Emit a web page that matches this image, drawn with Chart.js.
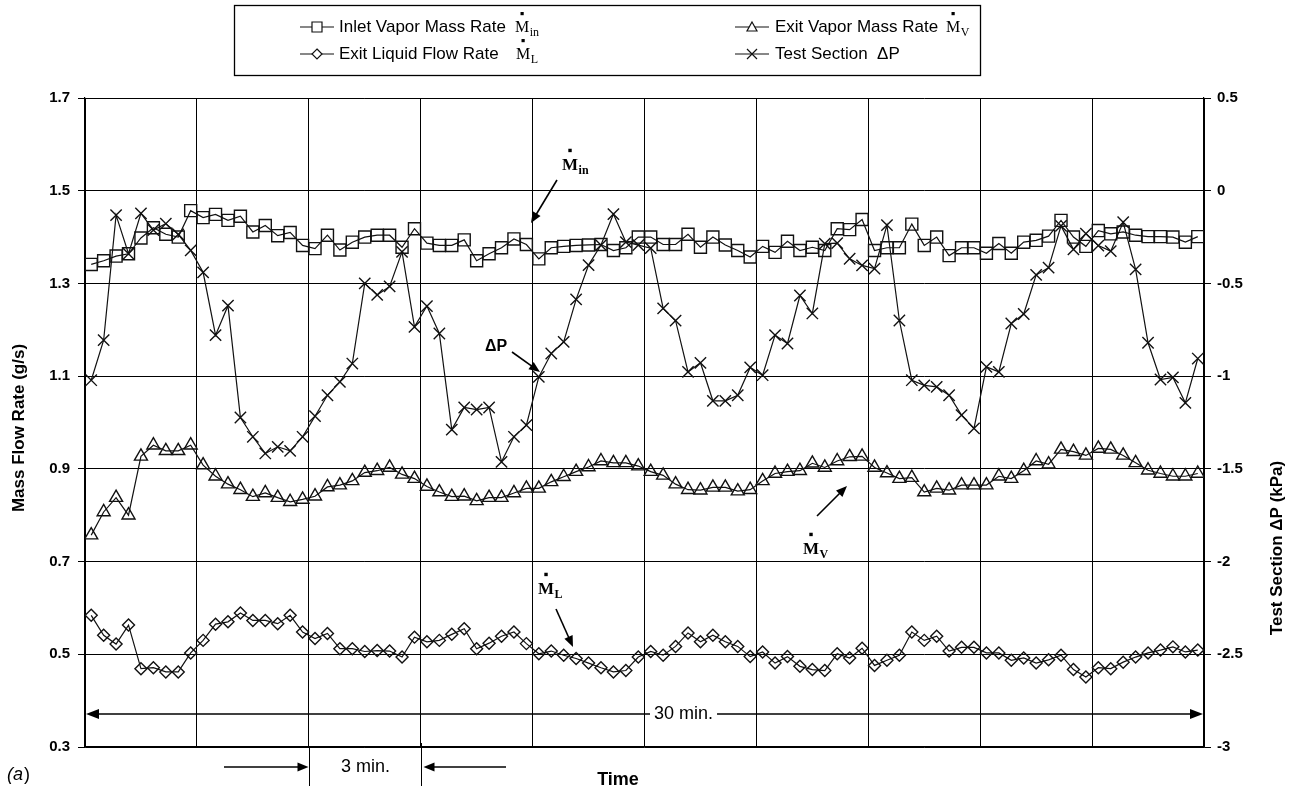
<!DOCTYPE html>
<html>
<head>
<meta charset="utf-8">
<script src="https://cdn.jsdelivr.net/npm/chart.js@4.4.1/dist/chart.umd.min.js"></script>
<style>
  html, body { margin: 0; padding: 0; background: #fff; }
  #wrap { position: relative; width: 1294px; height: 792px; }
</style>
</head>
<body>
<div id="wrap"><canvas id="chart" width="1294" height="792"></canvas></div>
<script>
// Readings taken every 20 s over a 30 min run (90 samples).
const SAMPLE_MINUTES = 20 / 60;

// Inlet vapor mass rate (g/s)
const inletVapor = [
  1.341, 1.349, 1.359, 1.364, 1.398, 1.420, 1.406, 1.400, 1.457, 1.442,
  1.449, 1.436, 1.445, 1.411, 1.425, 1.403, 1.410, 1.382, 1.375, 1.404,
  1.372, 1.389, 1.400, 1.404, 1.404, 1.378, 1.418, 1.387, 1.382, 1.382,
  1.394, 1.349, 1.364, 1.377, 1.396, 1.384, 1.353, 1.377, 1.380, 1.382,
  1.383, 1.384, 1.371, 1.377, 1.400, 1.400, 1.384, 1.384, 1.406, 1.378,
  1.400, 1.383, 1.371, 1.357, 1.380, 1.367, 1.391, 1.371, 1.378, 1.371,
  1.418, 1.416, 1.438, 1.371, 1.377, 1.377, 1.428, 1.382, 1.400, 1.360,
  1.377, 1.377, 1.365, 1.386, 1.365, 1.389, 1.393, 1.402, 1.436, 1.400,
  1.380, 1.414, 1.407, 1.411, 1.404, 1.401, 1.401, 1.400, 1.389, 1.401
];

// Exit vapor mass rate (g/s)
const exitVapor = [
  0.757, 0.807, 0.838, 0.800, 0.927, 0.951, 0.939, 0.939, 0.951, 0.908,
  0.884, 0.867, 0.855, 0.840, 0.848, 0.838, 0.829, 0.834, 0.841, 0.861,
  0.865, 0.874, 0.892, 0.896, 0.903, 0.888, 0.879, 0.862, 0.850, 0.840,
  0.841, 0.831, 0.838, 0.838, 0.848, 0.858, 0.858, 0.872, 0.883, 0.894,
  0.904, 0.917, 0.913, 0.913, 0.906, 0.894, 0.886, 0.867, 0.855, 0.854,
  0.860, 0.860, 0.852, 0.855, 0.874, 0.890, 0.894, 0.896, 0.912, 0.903,
  0.917, 0.926, 0.927, 0.903, 0.891, 0.879, 0.881, 0.850, 0.858, 0.854,
  0.865, 0.865, 0.865, 0.884, 0.879, 0.896, 0.917, 0.910, 0.942, 0.937,
  0.929, 0.944, 0.942, 0.929, 0.913, 0.897, 0.890, 0.884, 0.884, 0.890
];

// Exit liquid flow rate (g/s)
const exitLiquid = [
  0.584, 0.541, 0.522, 0.563, 0.469, 0.471, 0.462, 0.462, 0.503, 0.530,
  0.565, 0.570, 0.589, 0.573, 0.573, 0.566, 0.584, 0.548, 0.534, 0.545,
  0.512, 0.512, 0.506, 0.508, 0.507, 0.494, 0.537, 0.527, 0.530, 0.543,
  0.555, 0.512, 0.524, 0.539, 0.548, 0.523, 0.501, 0.507, 0.498, 0.491,
  0.481, 0.471, 0.462, 0.465, 0.494, 0.506, 0.498, 0.517, 0.546, 0.527,
  0.541, 0.527, 0.517, 0.495, 0.505, 0.481, 0.495, 0.474, 0.467, 0.465,
  0.501, 0.492, 0.513, 0.476, 0.487, 0.498, 0.548, 0.530, 0.539, 0.507,
  0.515, 0.515, 0.503, 0.503, 0.487, 0.492, 0.481, 0.488, 0.498, 0.467,
  0.451, 0.471, 0.469, 0.483, 0.494, 0.503, 0.509, 0.516, 0.505, 0.509
];

// Test section pressure drop (kPa)
const deltaP = [
  -1.022, -0.806, -0.132, -0.340, -0.122, -0.212, -0.178, -0.235, -0.322, -0.440,
  -0.779, -0.620, -1.223, -1.327, -1.417, -1.381, -1.403, -1.327, -1.216, -1.103,
  -1.031, -0.932, -0.500, -0.562, -0.516, -0.330, -0.734, -0.622, -0.770, -1.288,
  -1.169, -1.180, -1.169, -1.462, -1.327, -1.264, -1.004, -0.878, -0.815, -0.586,
  -0.401, -0.293, -0.126, -0.277, -0.293, -0.310, -0.635, -0.701, -0.977, -0.928,
  -1.133, -1.133, -1.103, -0.953, -0.995, -0.779, -0.824, -0.565, -0.662, -0.285,
  -0.283, -0.367, -0.403, -0.420, -0.186, -0.700, -1.022, -1.050, -1.058, -1.103,
  -1.210, -1.282, -0.950, -0.977, -0.716, -0.665, -0.454, -0.415, -0.190, -0.316,
  -0.231, -0.296, -0.326, -0.170, -0.424, -0.820, -1.018, -1.007, -1.144, -0.905
];

// Axis ranges
const massRange = [0.3, 1.7];
const massStep = 0.2;
const dpRange = [-3, 0.5];
const dpStep = 0.5;
const timeRange = [0, 30];
const timeStep = 3;

// Each sample sits in the middle of its 20 s slot
const toPoints = arr => arr.map((v, i) => ({ x: (i + 0.5) * SAMPLE_MINUTES, y: v }));

const SANS = '"Liberation Sans", Arial, Helvetica, sans-serif';
const SERIF = '"Liberation Serif", "Times New Roman", serif';

function seriesStyle(style, radius) {
  return {
    borderColor: '#111',
    borderWidth: 1.2,
    pointStyle: style,
    pointRadius: radius,
    pointBorderColor: '#111',
    pointBorderWidth: 1.4,
    pointBackgroundColor: 'rgba(0,0,0,0)',
    tension: 0,
    fill: false
  };
}

// ---- drawing helpers for legend and callouts ----
function arrow(ctx, x1, y1, x2, y2, head = 11, half = 4.5) {
  const a = Math.atan2(y2 - y1, x2 - x1);
  ctx.save();
  ctx.strokeStyle = '#000';
  ctx.fillStyle = '#000';
  ctx.lineWidth = 1.6;
  ctx.beginPath();
  ctx.moveTo(x1, y1);
  ctx.lineTo(x2 - Math.cos(a) * head * 0.8, y2 - Math.sin(a) * head * 0.8);
  ctx.stroke();
  ctx.beginPath();
  ctx.moveTo(x2, y2);
  ctx.lineTo(x2 - Math.cos(a) * head - Math.sin(a) * half, y2 - Math.sin(a) * head + Math.cos(a) * half);
  ctx.lineTo(x2 - Math.cos(a) * head + Math.sin(a) * half, y2 - Math.sin(a) * head - Math.cos(a) * half);
  ctx.closePath();
  ctx.fill();
  ctx.restore();
}

// "M" with a rate dot above it and a subscript
function mDot(ctx, x, y, sub, size, bold) {
  ctx.save();
  ctx.fillStyle = '#000';
  ctx.textBaseline = 'alphabetic';
  ctx.textAlign = 'left';
  ctx.font = (bold ? 'bold ' : '') + size + 'px ' + SERIF;
  const w = ctx.measureText('M').width;
  ctx.fillText('M', x, y);
  const d = Math.max(2, size * 0.2);
  ctx.fillRect(x + w / 2 - d / 2, y - size * 1.05 - d, d, d);
  ctx.font = (bold ? 'bold ' : '') + Math.round(size * 0.72) + 'px ' + SERIF;
  ctx.fillText(sub, x + w + 0.5, y + size * 0.22);
  ctx.restore();
}

function legendSample(ctx, cx, cy, style) {
  ctx.save();
  ctx.strokeStyle = '#111';
  ctx.lineWidth = 1.2;
  ctx.beginPath();
  ctx.moveTo(cx - 17, cy);
  ctx.lineTo(cx + 17, cy);
  ctx.stroke();
  ctx.lineWidth = 1.2;
  ctx.beginPath();
  const r = 5;
  if (style === 'rect') {
    ctx.rect(cx - r, cy - r, 2 * r, 2 * r);
  } else if (style === 'triangle') {
    ctx.moveTo(cx, cy - r);
    ctx.lineTo(cx + r, cy + r * 0.8);
    ctx.lineTo(cx - r, cy + r * 0.8);
    ctx.closePath();
  } else if (style === 'diamond') {
    ctx.moveTo(cx, cy - r);
    ctx.lineTo(cx + r, cy);
    ctx.lineTo(cx, cy + r);
    ctx.lineTo(cx - r, cy);
    ctx.closePath();
  } else {
    ctx.moveTo(cx - r, cy - r); ctx.lineTo(cx + r, cy + r);
    ctx.moveTo(cx + r, cy - r); ctx.lineTo(cx - r, cy + r);
  }
  ctx.fillStyle = '#fff';
  if (style !== 'cross') ctx.fill();
  ctx.stroke();
  ctx.restore();
}

const decorations = {
  id: 'decorations',
  afterDraw(chart) {
    const ctx = chart.ctx;
    const area = chart.chartArea;
    ctx.save();

    // legend box
    ctx.strokeStyle = '#000';
    ctx.lineWidth = 1.3;
    ctx.strokeRect(234.5, 5.5, 746, 70);
    ctx.fillStyle = '#000';
    ctx.font = '17px ' + SANS;
    ctx.textBaseline = 'middle';
    ctx.textAlign = 'left';
    const rows = [27, 54];
    legendSample(ctx, 317, rows[0], 'rect');
    ctx.fillText('Inlet Vapor Mass Rate', 339, rows[0]);
    mDot(ctx, 515, rows[0] + 5, 'in', 16, false);
    legendSample(ctx, 752, rows[0], 'triangle');
    ctx.fillText('Exit Vapor Mass Rate', 775, rows[0]);
    mDot(ctx, 946, rows[0] + 5, 'V', 16, false);
    legendSample(ctx, 317, rows[1], 'diamond');
    ctx.fillText('Exit Liquid Flow Rate', 339, rows[1]);
    mDot(ctx, 516, rows[1] + 5, 'L', 16, false);
    legendSample(ctx, 752, rows[1], 'cross');
    ctx.fillText('Test Section  \u0394P', 775, rows[1]);

    // axis titles
    ctx.font = 'bold 17px ' + SANS;
    ctx.textAlign = 'center';
    ctx.textBaseline = 'middle';
    ctx.save();
    ctx.translate(19, 428);
    ctx.rotate(-Math.PI / 2);
    ctx.fillText('Mass Flow Rate (g/s)', 0, 0);
    ctx.restore();
    ctx.save();
    ctx.translate(1277, 548);
    ctx.rotate(-Math.PI / 2);
    ctx.fillText('Test Section \u0394P (kPa)', 0, 0);
    ctx.restore();

    // series callouts
    mDot(ctx, 562, 170, 'in', 17, true);
    arrow(ctx, 557, 180, 531, 223);
    ctx.font = 'bold 16px ' + SANS;
    ctx.textAlign = 'center';
    ctx.fillText('\u0394P', 496, 347);
    arrow(ctx, 512, 352, 540, 372);
    mDot(ctx, 803, 554, 'V', 17, true);
    arrow(ctx, 817, 516, 847, 486);
    mDot(ctx, 538, 594, 'L', 17, true);
    arrow(ctx, 556, 609, 573, 647);

    // 30 minute span
    const spanY = 714;
    arrow(ctx, (area.left + area.right) / 2, spanY, area.left + 1, spanY, 13, 5);
    arrow(ctx, (area.left + area.right) / 2, spanY, area.right - 1, spanY, 13, 5);
    ctx.font = '18px ' + SANS;
    const label30 = '30 min.';
    const w30 = ctx.measureText(label30).width;
    ctx.fillStyle = '#fff';
    ctx.fillRect(650, spanY - 12, w30 + 8, 24);
    ctx.fillStyle = '#000';
    ctx.textAlign = 'left';
    ctx.fillText(label30, 654, spanY);

    // 3 minute marker below the axis
    const xs = chart.scales.x;
    const g1 = Math.round(xs.getPixelForValue(6)) + 0.5;
    const g2 = Math.round(xs.getPixelForValue(9)) + 0.5;
    ctx.strokeStyle = '#000';
    ctx.lineWidth = 1;
    ctx.beginPath();
    ctx.moveTo(g1, area.bottom); ctx.lineTo(g1, 786);
    ctx.moveTo(g2, area.bottom - 4); ctx.lineTo(g2, 786);
    ctx.stroke();
    arrow(ctx, 224, 767, g1 - 1, 767);
    arrow(ctx, 506, 767, g2 + 2, 767);
    ctx.textAlign = 'center';
    ctx.fillText('3 min.', (g1 + g2) / 2, 767);

    ctx.font = 'bold 18px ' + SANS;
    ctx.fillText('Time', 618, 780);

    ctx.font = 'italic 18px ' + SANS;
    ctx.textAlign = 'left';
    ctx.fillText('(', 7, 775);
    ctx.fillText('a', 13, 775);
    ctx.font = '18px ' + SANS;
    ctx.fillText(')', 24, 775);

    ctx.restore();
  }
};

const tickFont = { family: SANS, size: 15, weight: 'bold' };

new Chart(document.getElementById('chart'), {
  type: 'line',
  data: {
    datasets: [
      Object.assign({ label: 'Inlet Vapor Mass Rate', data: toPoints(inletVapor), yAxisID: 'y' }, seriesStyle('rect', 8.5)),
      Object.assign({ label: 'Exit Vapor Mass Rate', data: toPoints(exitVapor), yAxisID: 'y' }, seriesStyle('triangle', 7.5)),
      Object.assign({ label: 'Exit Liquid Flow Rate', data: toPoints(exitLiquid), yAxisID: 'y' }, seriesStyle('rectRot', 6)),
      Object.assign({ label: 'Test Section \u0394P', data: toPoints(deltaP), yAxisID: 'y1' }, seriesStyle('crossRot', 8))
    ]
  },
  options: {
    responsive: false,
    animation: false,
    layout: { padding: { top: 98, bottom: 45, left: 0, right: 0 } },
    plugins: { legend: { display: false }, tooltip: { enabled: false } },
    scales: {
      x: {
        type: 'linear',
        min: timeRange[0], max: timeRange[1],
        ticks: { display: false, stepSize: timeStep },
        grid: { color: '#000', lineWidth: 1, drawTicks: false },
        border: { display: true, color: '#000', width: 1.2 },
        afterFit(s) { s.height = 0; }
      },
      y: {
        position: 'left',
        min: massRange[0], max: massRange[1],
        ticks: { stepSize: massStep, color: '#000', font: tickFont, padding: 8, callback: v => Number(v).toFixed(1) },
        grid: { color: '#000', lineWidth: 1, tickLength: 7 },
        border: { display: true, color: '#000', width: 1.2 },
        afterFit(s) { s.width = 85; }
      },
      y1: {
        position: 'right',
        min: dpRange[0], max: dpRange[1],
        ticks: { stepSize: dpStep, color: '#000', font: tickFont, padding: 6, callback: v => String(Math.round(v * 10) / 10) },
        grid: { drawOnChartArea: false, color: '#000', lineWidth: 1, tickLength: 7 },
        border: { display: true, color: '#000', width: 1.2 },
        afterFit(s) { s.width = 90; }
      }
    }
  },
  plugins: [decorations]
});
</script>
</body>
</html>
